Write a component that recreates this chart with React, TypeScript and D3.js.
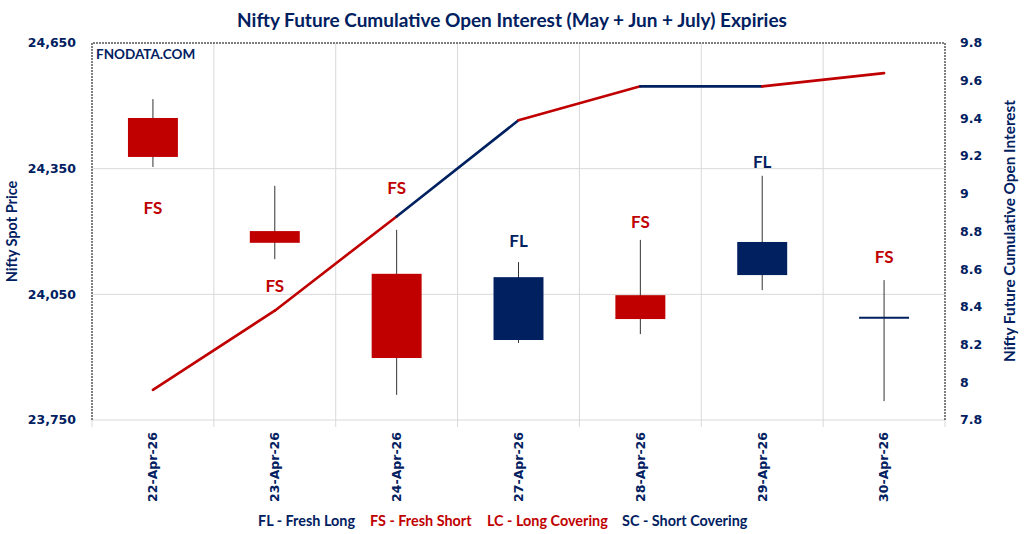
import React from "react";
import * as d3 from "d3";

const dates = ["22-Apr-26", "23-Apr-26", "24-Apr-26", "27-Apr-26", "28-Apr-26", "29-Apr-26", "30-Apr-26"];
const openPx = [24471, 24201, 24099, 23941, 24048, 24096, 23994];
const highPx = [24516, 24309, 24204, 24127, 24180, 24333, 24084];
const lowPx = [24354, 24134, 23810, 23934, 23955, 24060, 23795];
const closePx = [24378, 24173, 23898, 24091, 23991, 24175, 23994];
const cumOI = [7.96, 8.38, 8.88, 9.39, 9.57, 9.57, 9.64];
const signal = ["FS", "FS", "FS", "FL", "FS", "FL", "FS"];
const signalAt = [24256, 24070, 24304, 24177, 24223, 24366, 24139];
const priceTicks = [23750, 24050, 24350, 24650];
const oiTicks = [7.8, 8, 8.2, 8.4, 8.6, 8.8, 9, 9.2, 9.4, 9.6, 9.8];
const legendItems = ["FL - Fresh Long", "FS - Fresh Short", "LC - Long Covering", "SC - Short Covering"];

const NAVY = "#002060";
const RED = "#C00000";
const W = 1024;
const H = 534;
const plot = { left: 92, right: 945, top: 43, bottom: 420 };
const calibri = "Lato, 'Open Sans', sans-serif";
const tickFont = "'DejaVu Sans', Verdana, sans-serif";

const colorOf = (s: string) => (s === "FL" || s === "SC" ? NAVY : RED);

export default function App() {
    const x = d3.scaleBand<string>().domain(dates).range([plot.left, plot.right]).padding(0);
    const yP = d3.scaleLinear().domain([23750, 24650]).range([plot.bottom, plot.top]);
    const yO = d3.scaleLinear().domain([7.8, 9.8]).range([plot.bottom, plot.top]);
    const cx = (d: string) => (x(d) ?? 0) + x.bandwidth() / 2;
    const bodyW = x.bandwidth() * 0.41;

    // one segment per day, coloured by the signal of the day it ends on
    const segment = (i: number) =>
        d3.line<number>()
            .x((_, j) => cx(dates[i + j]))
            .y(v => yO(v))([cumOI[i], cumOI[i + 1]]) ?? "";

    const legendX = [258, 370, 487, 622];

    return (
        <svg width={W} height={H} style={{ position: "absolute", left: 0, top: 0, background: "#fff" }}>
            <text x={512} y={27} textAnchor="middle" fontFamily={calibri} fontWeight="bold" fontSize={19} fill={NAVY}>
                Nifty Future Cumulative Open Interest (May + Jun + July) Expiries
            </text>

            {/* grid */}
            {priceTicks.slice(1, 3).map(t => (
                <line key={t} x1={plot.left} x2={plot.right} y1={yP(t)} y2={yP(t)} stroke="#d9d9d9" />
            ))}
            {dates.slice(1).map(d => (
                <line key={d} x1={x(d)} x2={x(d)} y1={plot.top} y2={plot.bottom} stroke="#d9d9d9" />
            ))}
            <line x1={plot.left} x2={plot.right} y1={plot.bottom} y2={plot.bottom} stroke="#d9d9d9" />
            {d3.range(dates.length + 1).map(i => {
                const xx = plot.left + i * x.bandwidth();
                return <line key={"t" + i} x1={xx} x2={xx} y1={plot.bottom} y2={plot.bottom + 7} stroke="#d9d9d9" />;
            })}
            <path d={`M${plot.left},${plot.bottom}V${plot.top}H${plot.right}V${plot.bottom}`} fill="none" stroke="#000" strokeWidth={1} strokeDasharray="2,1" />

            <text x={96} y={59} fontFamily={calibri} fontWeight="bold" fontSize={13.5} fill={NAVY}>FNODATA.COM</text>

            {/* candles */}
            {dates.map((d, i) => {
                const c = closePx[i] >= openPx[i] ? NAVY : RED;
                const top = yP(Math.max(openPx[i], closePx[i]));
                const bot = yP(Math.min(openPx[i], closePx[i]));
                return (
                    <g key={d}>
                        <line x1={cx(d)} x2={cx(d)} y1={yP(highPx[i])} y2={yP(lowPx[i])} stroke="#333" strokeWidth={1} />
                        {bot - top < 1 ? (
                            <line x1={cx(d) - bodyW / 2} x2={cx(d) + bodyW / 2} y1={top} y2={top} stroke={c} strokeWidth={2} />
                        ) : (
                            <rect x={cx(d) - bodyW / 2} y={top} width={bodyW} height={bot - top} fill={c} />
                        )}
                    </g>
                );
            })}

            {/* OI line */}
            {d3.range(cumOI.length - 1).map(i => (
                <path key={"s" + i} d={segment(i)} fill="none" stroke={colorOf(signal[i + 1])} strokeWidth={2.6} strokeLinecap="round" />
            ))}

            {/* signals */}
            {dates.map((d, i) => (
                <text key={"l" + d} x={cx(d)} y={yP(signalAt[i])} dy="0.35em" textAnchor="middle" fontFamily={calibri} fontWeight="bold" fontSize={17} fill={colorOf(signal[i])}>
                    {signal[i]}
                </text>
            ))}

            {/* left axis */}
            {priceTicks.map(t => (
                <text key={"p" + t} x={76} y={yP(t)} dy="0.35em" textAnchor="end" fontFamily={tickFont} fontWeight="bold" fontSize={12.5} fill={NAVY}>
                    {d3.format(",")(t)}
                </text>
            ))}
            <text transform={`translate(17,${(plot.top + plot.bottom) / 2}) rotate(-90)`} textAnchor="middle" fontFamily={calibri} fontWeight="bold" fontSize={14.5} fill={NAVY}>
                Nifty Spot Price
            </text>

            {/* right axis */}
            {oiTicks.map(t => (
                <text key={"o" + t} x={960} y={yO(t)} dy="0.35em" textAnchor="start" fontFamily={tickFont} fontWeight="bold" fontSize={12.5} fill={NAVY}>
                    {d3.format("~g")(t)}
                </text>
            ))}
            <text transform={`translate(1015,231) rotate(-90)`} textAnchor="middle" fontFamily={calibri} fontWeight="bold" fontSize={16} textLength={262} lengthAdjust="spacingAndGlyphs" fill={NAVY}>
                Nifty Future Cumulative Open Interest
            </text>

            {/* x axis labels */}
            {dates.map(d => (
                <text key={"x" + d} transform={`translate(${cx(d)},${plot.bottom + 12}) rotate(-90)`} dy="0.35em" textAnchor="end" fontFamily={tickFont} fontWeight="bold" fontSize={12.5} fill={NAVY}>
                    {d}
                </text>
            ))}

            {/* legend */}
            {legendItems.map((t, i) => (
                <text key={t} x={legendX[i]} y={526} fontFamily={calibri} fontWeight="bold" fontSize={14.4} fill={i === 0 || i === 3 ? NAVY : RED}>
                    {t}
                </text>
            ))}
        </svg>
    );
}
